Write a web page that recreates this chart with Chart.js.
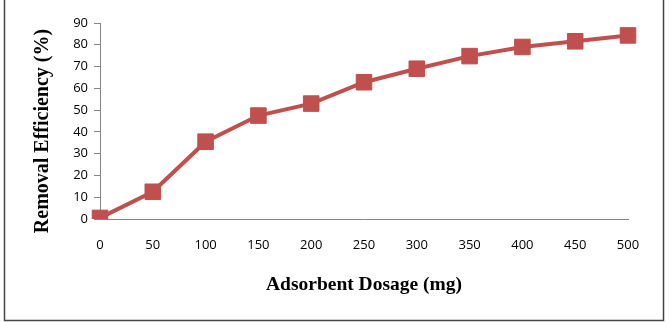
<!DOCTYPE html>
<html>
<head>
<meta charset="utf-8">
<script src="https://cdn.jsdelivr.net/npm/chart.js@4"></script>
<style>
  html, body { margin: 0; padding: 0; background: #fff; }
  #wrap { width: 670px; height: 322px; position: relative; }
</style>
</head>
<body>
<div id="wrap"><canvas id="myChart" width="670" height="322"></canvas></div>
<script>
// Data
const dosages = ['0', '50', '100', '150', '200', '250', '300', '350', '400', '450', '500'];
const removal = [0.5, 12.5, 35.5, 47.5, 53, 62.8, 69, 74.8, 79, 81.6, 84.3];
const yTicks = [0, 10, 20, 30, 40, 50, 60, 70, 80, 90];
const yTitle = 'Removal Efficiency (%)';

// frame lines round the figure (left, right, bottom) + y title, which sits a bit lower than centre
const framePlugin = {
  id: 'frame',
  afterDraw(chart) {
    const c = chart.ctx;
    c.save();
    c.strokeStyle = '#444';
    c.lineWidth = 1.5;
    c.beginPath();
    c.moveTo(4.5, 0);
    c.lineTo(4.5, 320.5);
    c.lineTo(663.5, 320.5);
    c.lineTo(663.5, 0);
    c.stroke();

    c.translate(43, 131);
    c.rotate(-Math.PI / 2);
    c.fillStyle = '#000';
    c.font = 'bold 20px "Liberation Serif"';
    c.textAlign = 'center';
    c.textBaseline = 'middle';
    c.fillText(yTitle, 0, 0);
    c.restore();
  }
};

let ctx = document.getElementById('myChart').getContext('2d');
let removalChart = new Chart(ctx, {
  type: 'line',
  data: {
    labels: dosages,
    datasets: [{
      label: 'Removal Efficiency',
      data: removal,
      borderColor: '#C0504D',
      backgroundColor: '#C0504D',
      borderWidth: 4,
      pointStyle: 'rect',
      pointRadius: 11,
      pointHoverRadius: 11,
      pointBorderWidth: 1,
      tension: 0
    }]
  },
  options: {
    responsive: false,
    animation: false,
    layout: { padding: { left: 22, right: 42, top: 23, bottom: 14 } },
    plugins: {
      legend: { display: false },
      tooltip: { enabled: false }
    },
    scales: {
      x: {
        type: 'category',
        offset: false,
        grid: { display: false, drawTicks: false },
        border: { color: '#868686', width: 1 },
        ticks: {
          color: '#000',
          font: { family: 'Open Sans', size: 13 },
          padding: 18,
          maxRotation: 0,
          autoSkip: false
        },
        title: {
          display: true,
          text: 'Adsorbent Dosage (mg)',
          color: '#000',
          font: { family: 'Liberation Serif', size: 19.5, weight: 'bold' },
          padding: { top: 2, bottom: 11 }
        },
        afterFit(scale) { scale.height = 89; }
      },
      y: {
        min: 0,
        max: 90,
        afterBuildTicks(scale) { scale.ticks = yTicks.map(v => ({ value: v })); },
        grid: { display: true, drawOnChartArea: false, drawTicks: true, tickLength: 6, color: '#868686' },
        border: { color: '#868686', width: 1 },
        ticks: {
          color: '#000',
          font: { family: 'Open Sans', size: 13 },
          padding: 6
        },
        afterFit(scale) { scale.width = 78; }
      }
    }
  },
  plugins: [framePlugin]
});
</script>
</body>
</html>
